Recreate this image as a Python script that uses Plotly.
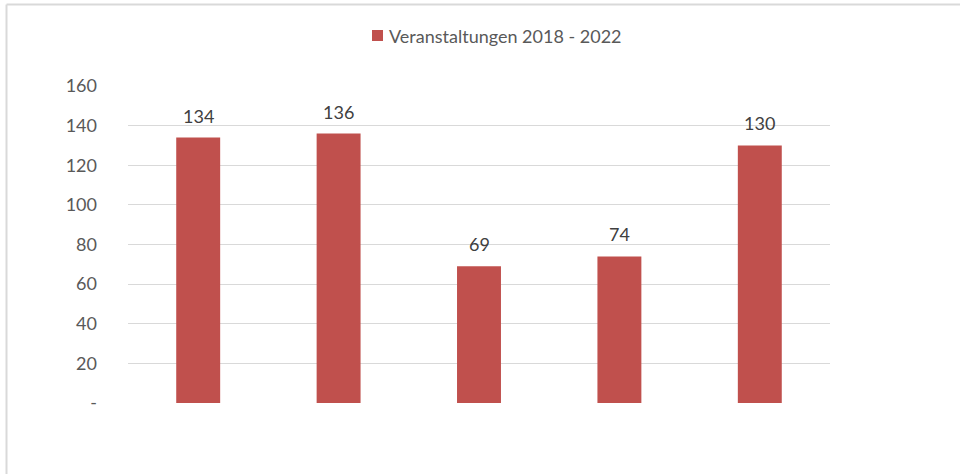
import plotly.graph_objects as go

years = ["2018", "2019", "2020", "2021", "2022"]
events = [134, 136, 69, 74, 130]
series_name = "Veranstaltungen 2018 - 2022"
tick_vals = [0, 20, 40, 60, 80, 100, 120, 140, 160]
tick_text = ["-", "20", "40", "60", "80", "100", "120", "140", "160"]

W, H = 960, 474
L, R, T, B = 128, 130, 86, 71
pw, ph = W - L - R, H - T - B

def px_x(x):
    return (x - L) / pw

def px_y(y):
    return 1 - (y - T) / ph

fig = go.Figure()
fig.add_trace(go.Bar(
    x=years, y=events, name=series_name,
    marker=dict(color="#C0504D", line=dict(width=0)),
    showlegend=False,
))

annotations = [
    dict(x=i, y=v, xref="x", yref="y", text=str(v), showarrow=False,
         xanchor="center", yanchor="bottom", yshift=9,
         font=dict(family="Lato", size=18, color="#404040"))
    for i, v in enumerate(events)
]
annotations.append(
    dict(text=series_name, xref="paper", yref="paper", x=px_x(387), y=px_y(36),
         xanchor="left", yanchor="middle", showarrow=False,
         font=dict(family="Lato", size=18, color="#595959"))
)

fig.update_layout(
    width=W, height=H,
    margin=dict(l=L, r=R, t=T, b=B),
    paper_bgcolor="white", plot_bgcolor="white",
    bargap=0.687,
    showlegend=False,
    font=dict(family="Lato", color="#595959", size=18),
    xaxis=dict(type="category", range=[-0.5, 4.5], showticklabels=False, showgrid=False,
               zeroline=False, showline=False, ticks=""),
    yaxis=dict(range=[0, 160], tickvals=tick_vals, ticktext=tick_text,
               showgrid=True, gridcolor="#D9D9D9", gridwidth=1,
               zeroline=False, showline=False, ticks="",
               ticklabelstandoff=30,
               tickfont=dict(family="Lato", size=18, color="#595959")),
    shapes=[
        dict(type="line", xref="paper", yref="paper", x0=px_x(6.5), x1=px_x(960), y0=px_y(4.5), y1=px_y(4.5),
             line=dict(color="#D9D9D9", width=2)),
        dict(type="line", xref="paper", yref="paper", x0=px_x(6.5), x1=px_x(6.5), y0=px_y(474), y1=px_y(4.5),
             line=dict(color="#D9D9D9", width=2)),
        dict(type="rect", xref="paper", yref="paper", x0=px_x(372), x1=px_x(383), y0=px_y(41), y1=px_y(30),
             fillcolor="#C0504D", line=dict(width=0)),
    ],
    annotations=annotations,
)

fig.write_html("out.html", config={"displayModeBar": False, "staticPlot": True},
               post_script="document.body.style.margin='0px';document.body.style.overflow='hidden';")
